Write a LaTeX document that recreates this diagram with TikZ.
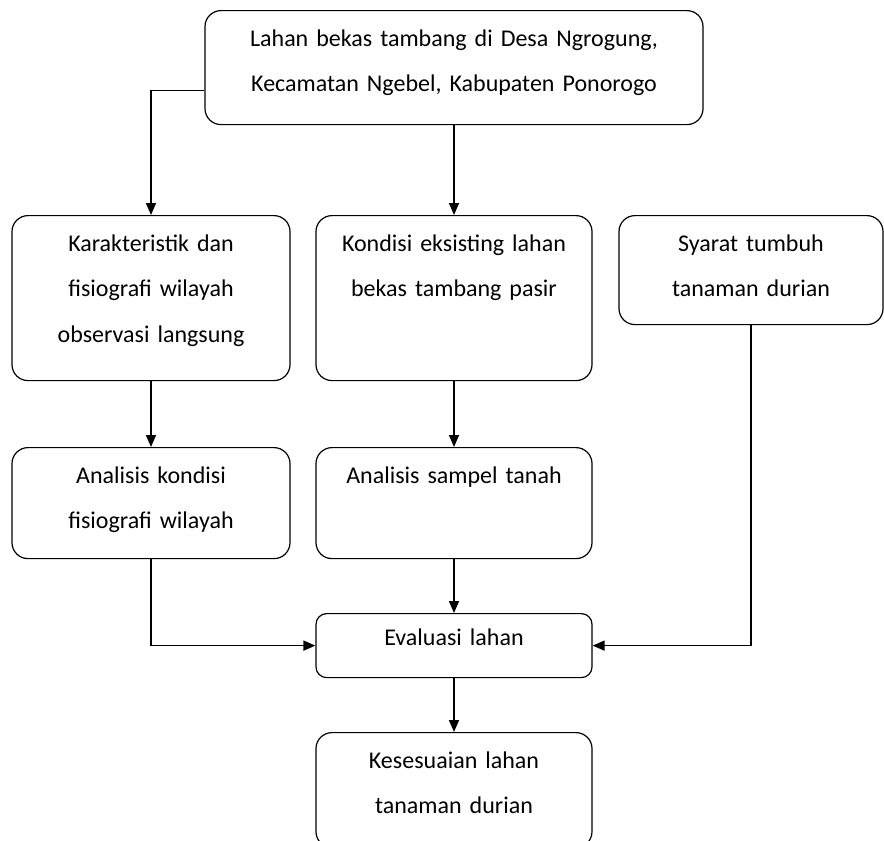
\documentclass[tikz,border=0pt]{standalone}
\usepackage{fontspec}
\setmainfont{Carlito}
\usetikzlibrary{arrows.meta}

\begin{document}
\begin{tikzpicture}[x=0.75pt, y=-0.75pt, >={Triangle[length=9pt,width=7.5pt]}, line width=1.2pt,
    box/.style={draw, line width=0.9pt, rounded corners=12pt, anchor=north, align=center, inner xsep=0pt, inner ysep=0pt, text height=27pt, font=\fontsize{18}{34}\selectfont}]
        \useasboundingbox (0,0) rectangle (884,840);

        % kotak
        \node[box, text width=373.5pt, text depth=58.5pt] (lahan) at (454,10) {Lahan bekas tambang di Desa Ngrogung,\\Kecamatan Ngebel, Kabupaten Ponorogo};
        \node[box, text width=208.5pt, text depth=96.75pt] (karakter) at (151,215) {Karakteristik dan\\fisiografi wilayah\\observasi langsung};
        \node[box, text width=207pt, text depth=96.75pt] (kondisi) at (454,215) {Kondisi eksisting lahan\\bekas tambang pasir};
        \node[box, text width=198pt, text depth=54.75pt] (syarat) at (751,215) {Syarat tumbuh\\tanaman durian};
        \node[box, text width=208.5pt, text depth=56.25pt] (fisiografi) at (151,447) {Analisis kondisi\\fisiografi wilayah};
        \node[box, text width=207pt, text depth=56.25pt] (sampel) at (454,447) {Analisis sampel tanah};
        \node[box, rounded corners=8pt, text width=207pt, text height=24pt, text depth=24pt] (evaluasi) at (454,613) {Evaluasi lahan};
        \node[box, text width=207pt, text depth=59.25pt] (kesesuaian) at (454,732) {Kesesuaian lahan\\tanaman durian};

        % panah
        \draw[->] ([yshift=-17.25pt]lahan.west) -| (karakter.north);
        \draw[->] (lahan.south) -- (kondisi.north);
        \draw[->] (karakter.south) -- (fisiografi.north);
        \draw[->] (kondisi.south) -- (sampel.north);
        \draw[->] (fisiografi.south) |- (evaluasi.west);
        \draw[->] (sampel.south) -- (evaluasi.north);
        \draw[->] (syarat.south) |- (evaluasi.east);
        \draw[->] (evaluasi.south) -- (kesesuaian.north);
    \end{tikzpicture}
\end{document}
